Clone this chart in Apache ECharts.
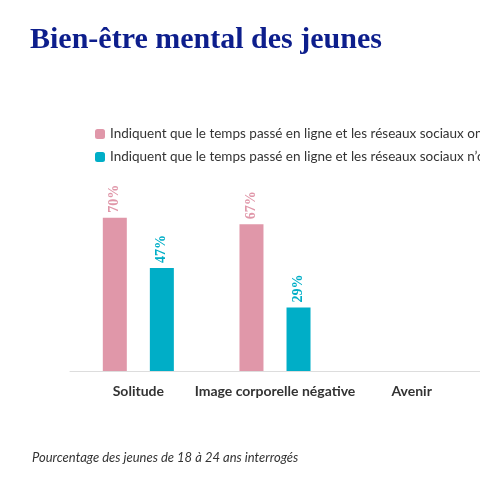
<!DOCTYPE html><html><head><meta charset="utf-8"><script src="https://cdn.jsdelivr.net/npm/echarts@6/dist/echarts.min.js"></script></head><body style="margin:0"><div id="c" style="width:480px;height:480px"></div><script>
const categories=["Solitude","Image corporelle négative","Avenir"];
const impactNeg=[70,67,null];
const pasImpact=[47,29,null];
const seriesNames=["Indiquent que le temps passé en ligne et les réseaux sociaux ont un impact négatif","Indiquent que le temps passé en ligne et les réseaux sociaux n’ont pas d’impact"];
const c=echarts.init(document.getElementById('c'));
const lbl=col=>({show:true,position:'top',rotate:90,align:'left',verticalAlign:'middle',distance:5,color:col,fontFamily:'Liberation Serif',fontWeight:'bold',fontSize:14,formatter:'{c}%'});
c.setOption({
title:[{text:'Bien-être mental des jeunes',left:25,top:20,textStyle:{fontFamily:'Liberation Serif',fontWeight:'bold',fontSize:30,color:'#0d1e8c'}},
{text:'Pourcentage des jeunes de 18 à 24 ans interrogés',left:27,top:446,textStyle:{fontFamily:'Lato',fontStyle:'italic',fontWeight:'normal',fontSize:13,color:'#333'}}],
legend:{orient:'vertical',left:90,top:122,itemWidth:10,itemHeight:10,itemGap:9,textStyle:{fontFamily:'Lato',fontSize:13.5,color:'#333'},data:seriesNames},
grid:{left:70,top:152,right:-91,bottom:109,containLabel:false},
xAxis:{type:'category',data:categories,axisTick:{show:false},axisLine:{lineStyle:{color:'#ddd'}},axisLabel:{interval:0,hideOverlap:false,margin:13,fontFamily:'Source Sans Pro, Lato',fontWeight:'bold',fontSize:14,color:'#333'}},
yAxis:{type:'value',min:0,max:100,show:false,splitLine:{show:false}},
series:[{name:seriesNames[0],type:'bar',data:impactNeg,barWidth:24,barGap:'96%',itemStyle:{color:'#e097a9'},label:lbl('#e097a9')},
{name:seriesNames[1],type:'bar',data:pasImpact,barWidth:24,itemStyle:{color:'#00aec7'},label:lbl('#00aec7')}]
});
</script></body></html>
